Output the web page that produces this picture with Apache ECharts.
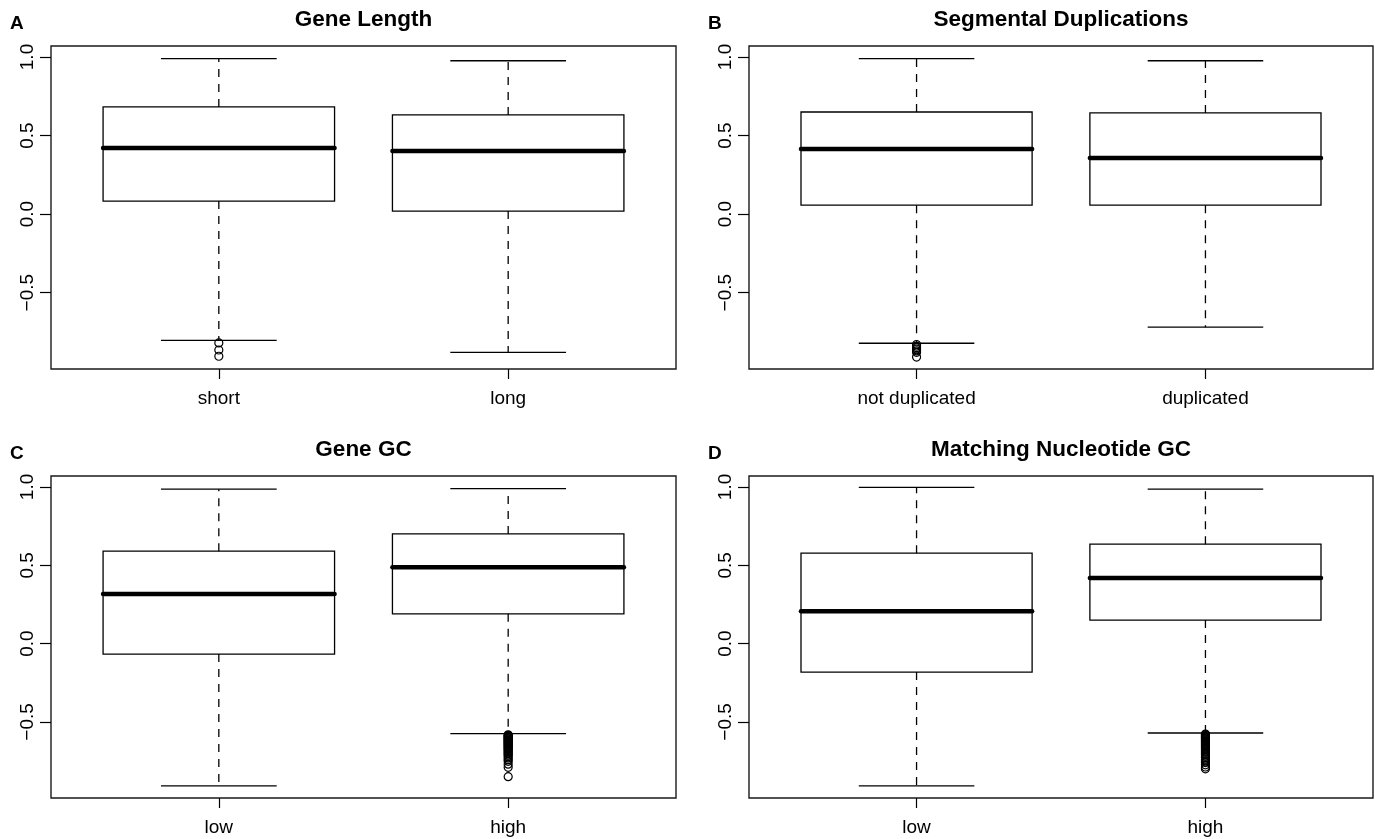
<!DOCTYPE html>
<html>
<head>
<meta charset="utf-8">
<script src="https://cdn.jsdelivr.net/npm/echarts@6/dist/echarts.min.js"></script>
<style>
  html, body { margin: 0; padding: 0; background: #fff; }
  #chart { width: 1375px; height: 839px; }
</style>
</head>
<body>
<div id="chart"></div>
<script>
// ---- data -------------------------------------------------------------
// Five-number summaries per group: [lower whisker, Q1, median, Q3, upper whisker]
const panelLetters = ['A', 'B', 'C', 'D'];
const panelTitles = ['Gene Length', 'Segmental Duplications', 'Gene GC', 'Matching Nucleotide GC'];
const groupNames = [
  ['short', 'long'],
  ['not duplicated', 'duplicated'],
  ['low', 'high'],
  ['low', 'high']
];
const geneLengthStats = [
  [-0.804, 0.083, 0.421, 0.682, 0.990],
  [-0.880, 0.019, 0.402, 0.631, 0.976]
];
const segDupStats = [
  [-0.822, 0.057, 0.415, 0.650, 0.990],
  [-0.720, 0.057, 0.357, 0.644, 0.976]
];
const geneGcStats = [
  [-0.909, -0.067, 0.316, 0.590, 0.986],
  [-0.575, 0.190, 0.488, 0.700, 0.990]
];
const matchGcStats = [
  [-0.909, -0.182, 0.207, 0.577, 0.997],
  [-0.571, 0.150, 0.418, 0.635, 0.986]
];
// Outlying points per group
const geneLengthOutliers = [[-0.820, -0.865, -0.905], []];
const segDupOutliers = [[-0.830, -0.840, -0.850, -0.860, -0.870, -0.880, -0.910], []];
const geneGcOutliers = [[], [
  -0.582, -0.586, -0.590, -0.594, -0.598, -0.603, -0.607, -0.611, -0.616, -0.620,
  -0.625, -0.630, -0.634, -0.639, -0.644, -0.649, -0.654, -0.660, -0.665, -0.671,
  -0.677, -0.683, -0.690, -0.697, -0.704, -0.712, -0.720, -0.730, -0.741, -0.752,
  -0.770, -0.790, -0.850
]];
const matchGcOutliers = [[], [
  -0.578, -0.582, -0.587, -0.591, -0.596, -0.600, -0.605, -0.610, -0.615, -0.620,
  -0.625, -0.630, -0.636, -0.641, -0.647, -0.653, -0.659, -0.665, -0.672, -0.679,
  -0.686, -0.694, -0.702, -0.710, -0.719, -0.728, -0.738, -0.749, -0.760, -0.774,
  -0.788, -0.800
]];
const yTicks = [-0.5, 0, 0.5, 1];

const panelStats = [geneLengthStats, segDupStats, geneGcStats, matchGcStats];
const panelOutliers = [geneLengthOutliers, segDupOutliers, geneGcOutliers, matchGcOutliers];

// ---- layout ------------------------------------------------------------
const FONT = '"Liberation Sans", Arial, Helvetica, sans-serif';
const grids = [
  { left: 51, top: 46, width: 625, height: 323 },
  { left: 749, top: 46, width: 624, height: 323 },
  { left: 51, top: 476, width: 625, height: 322 },
  { left: 749, top: 476, width: 624, height: 322 }
];
const Y_MIN = -0.986, Y_MAX = 1.07;
const X_MIN = 0.42, X_MAX = 2.58;

function fmtTick(v) {
  return v < 0 ? '\u2212' + Math.abs(v).toFixed(1) : v.toFixed(1);
}

// Draws one box-and-whisker glyph in the style of base R graphics
function renderBox(params, api) {
  const x = api.value(0);
  const pLo = api.coord([x, api.value(1)]);
  const pQ1 = api.coord([x, api.value(2)]);
  const pMed = api.coord([x, api.value(3)]);
  const pQ3 = api.coord([x, api.value(4)]);
  const pHi = api.coord([x, api.value(5)]);
  const bw = api.size([0.8, 0])[0];
  const cw = api.size([0.4, 0])[0];
  const cx = pMed[0];
  const line = { stroke: '#000', lineWidth: 1.3 };
  const dashed = { stroke: '#000', lineWidth: 1.3, lineDash: [8, 7] };
  return {
    type: 'group',
    children: [
      { type: 'line', shape: { x1: cx, y1: pQ3[1], x2: cx, y2: pHi[1] }, style: dashed },
      { type: 'line', shape: { x1: cx, y1: pQ1[1], x2: cx, y2: pLo[1] }, style: dashed },
      { type: 'line', shape: { x1: cx - cw / 2, y1: pHi[1], x2: cx + cw / 2, y2: pHi[1] }, style: line },
      { type: 'line', shape: { x1: cx - cw / 2, y1: pLo[1], x2: cx + cw / 2, y2: pLo[1] }, style: line },
      { type: 'rect', shape: { x: cx - bw / 2, y: pQ3[1], width: bw, height: pQ1[1] - pQ3[1] },
        style: { fill: 'none', stroke: '#000', lineWidth: 1.3 } },
      { type: 'line', shape: { x1: cx - bw / 2, y1: pMed[1], x2: cx + bw / 2, y2: pMed[1] },
        style: { stroke: '#000', lineWidth: 4.5, lineCap: 'round' } }
    ]
  };
}

const option = {
  animation: false,
  backgroundColor: '#fff',
  grid: grids.map(g => Object.assign({ show: true, borderColor: '#1a1a1a', borderWidth: 1.4, backgroundColor: 'transparent' }, g)),
  xAxis: grids.map((g, i) => ({
    type: 'value', gridIndex: i, min: X_MIN, max: X_MAX,
    axisLine: { show: false, onZero: false },
    splitLine: { show: false },
    axisTick: { show: true, length: 10, customValues: [1, 2], lineStyle: { color: '#000', width: 1.2 } },
    axisLabel: {
      customValues: [1, 2], margin: 20, color: '#000', fontSize: 19, fontFamily: FONT,
      formatter: v => groupNames[i][Math.round(v) - 1]
    }
  })),
  yAxis: grids.map((g, i) => ({
    type: 'value', gridIndex: i, min: Y_MIN, max: Y_MAX,
    axisLine: { show: false, onZero: false },
    splitLine: { show: false },
    axisTick: { show: true, length: 11, customValues: yTicks, lineStyle: { color: '#000', width: 1.2 } },
    axisLabel: {
      customValues: yTicks, rotate: 90, margin: 14, color: '#000', fontSize: 19, fontFamily: FONT,
      formatter: fmtTick
    }
  })),
  graphic: [],
  series: []
};

grids.forEach((g, i) => {
  const cx = g.left + g.width / 2;
  option.graphic.push({
    type: 'text', x: cx, y: g.top - 26,
    style: { text: panelTitles[i], fill: '#000', font: 'bold 22.5px ' + FONT, align: 'center', verticalAlign: 'middle' }
  });
  option.graphic.push({
    type: 'text', x: g.left - 41, y: g.top - 22.5,
    style: { text: panelLetters[i], fill: '#000', font: 'bold 19px ' + FONT, align: 'left', verticalAlign: 'middle' }
  });
  option.series.push({
    type: 'custom', xAxisIndex: i, yAxisIndex: i, silent: true,
    renderItem: renderBox,
    encode: { x: 0, y: [1, 2, 3, 4, 5] },
    data: panelStats[i].map((s, k) => [k + 1].concat(s))
  });
  const pts = [];
  panelOutliers[i].forEach((list, k) => list.forEach(v => pts.push([k + 1, v])));
  option.series.push({
    type: 'scatter', xAxisIndex: i, yAxisIndex: i, silent: true,
    symbol: 'circle', symbolSize: 8,
    itemStyle: { color: 'rgba(0,0,0,0)', borderColor: '#000', borderWidth: 1.2, opacity: 1 },
    data: pts
  });
});

const chart = echarts.init(document.getElementById('chart'), null, { renderer: 'canvas' });
chart.setOption(option);
</script>
</body>
</html>
